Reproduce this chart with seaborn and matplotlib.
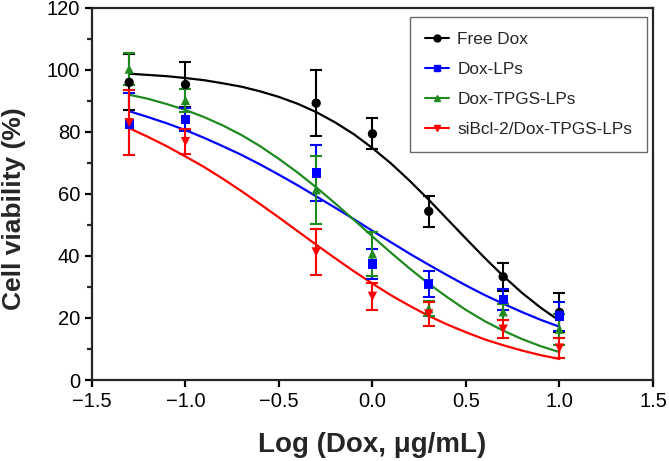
import numpy as np
import pandas as pd
import seaborn as sns
import matplotlib.pyplot as plt
from matplotlib.lines import Line2D
from matplotlib.ticker import MultipleLocator

# groups and styling
groups = ["Free Dox", "Dox-LPs", "Dox-TPGS-LPs", "siBcl-2/Dox-TPGS-LPs"]
colors = ["#000000", "#0000ff", "#1f8a1f", "#ff0000"]
markers = ["o", "s", "^", "v"]

log_dose = [-1.301, -1.0, -0.301, 0.0, 0.301, 0.699, 1.0]
free_mean = [96.0, 95.3, 89.3, 79.4, 54.4, 33.3, 21.8]
free_sd = [9.0, 7.4, 10.7, 5.0, 5.0, 4.5, 6.3]
lps_mean = [82.6, 84.0, 66.8, 37.4, 31.0, 26.0, 20.6]
lps_sd = [10.0, 3.6, 9.0, 4.7, 4.2, 3.5, 4.7]
tpgs_mean = [100.3, 90.2, 61.4, 40.7, 23.0, 22.0, 16.4]
tpgs_sd = [5.2, 3.6, 11.0, 7.0, 2.5, 2.5, 5.0]
si_mean = [83.0, 76.9, 41.3, 27.0, 21.3, 16.4, 10.3]
si_sd = [10.4, 4.0, 7.3, 4.4, 4.0, 2.8, 3.2]

# fitted curves
curve_x = [-1.3, -1.2, -1.1, -1.0, -0.9, -0.8, -0.7, -0.6, -0.5, -0.4, -0.3, -0.2,
           -0.1, 0.0, 0.1, 0.2, 0.3, 0.4, 0.5, 0.6, 0.7, 0.8, 0.9, 1.0]
free_fit = [98.8, 98.4, 98.0, 97.4, 96.7, 95.7, 94.6, 93.1, 91.3, 89.1, 86.4, 83.1,
            79.3, 74.8, 69.8, 64.2, 58.2, 51.9, 45.6, 39.4, 33.5, 28.1, 23.3, 19.1]
lps_fit = [86.7, 84.8, 82.8, 80.6, 78.1, 75.4, 72.6, 69.5, 66.2, 62.8, 59.2, 55.6,
           51.9, 48.1, 44.4, 40.7, 37.2, 33.8, 30.5, 27.4, 24.6, 21.9, 19.4, 17.2]
tpgs_fit = [92.0, 90.7, 89.0, 87.1, 84.8, 82.1, 79.0, 75.4, 71.3, 66.9, 62.1, 57.0,
            51.7, 46.3, 41.0, 35.9, 31.1, 26.7, 22.6, 19.0, 15.9, 13.2, 10.9, 9.0]
si_fit = [81.2, 78.4, 75.4, 72.1, 68.7, 64.9, 60.9, 56.7, 52.4, 48.0, 43.6, 39.3,
          35.1, 31.1, 27.3, 23.9, 20.7, 17.9, 15.4, 13.1, 11.2, 9.5, 8.0, 6.8]

means = [free_mean, lps_mean, tpgs_mean, si_mean]
sds = [free_sd, lps_sd, tpgs_sd, si_sd]
fits = [free_fit, lps_fit, tpgs_fit, si_fit]

curves = pd.concat([pd.DataFrame({"x": curve_x, "y": f, "group": g})
                    for g, f in zip(groups, fits)], ignore_index=True)
points = pd.concat([pd.DataFrame({"x": log_dose, "y": m, "sd": s, "group": g})
                    for g, m, s in zip(groups, means, sds)], ignore_index=True)

sns.set_style("ticks")
plt.rcParams["font.family"] = ["Liberation Sans", "DejaVu Sans"]

fig = plt.figure(figsize=(6.69, 4.61), dpi=100)
ax = fig.add_axes([0.1375, 0.1757, 0.8385, 0.807])

pal = dict(zip(groups, colors))
sns.lineplot(data=curves, x="x", y="y", hue="group", palette=pal,
             linewidth=1.6, legend=False, ax=ax)

for g, c in zip(groups, colors):
    d = points[points.group == g]
    ax.errorbar(d.x, d.y, yerr=d.sd, fmt="none", ecolor=c,
                elinewidth=1.5, capsize=4.5, capthick=1.5, zorder=3)

sns.scatterplot(data=points, x="x", y="y", hue="group", style="group",
                palette=pal, markers=dict(zip(groups, markers)), s=45,
                edgecolor="none", legend=False, ax=ax, zorder=4)

ax.set_xlim(-1.5, 1.5)
ax.set_ylim(0, 120)
ax.xaxis.set_major_locator(MultipleLocator(0.5))
ax.yaxis.set_major_locator(MultipleLocator(20))
ax.yaxis.set_minor_locator(MultipleLocator(10))
ax.xaxis.set_major_formatter(plt.FuncFormatter(lambda v, p: f"{v:.1f}".replace("-", "\u2212")))

for s in ax.spines.values():
    s.set_linewidth(1.6)
ax.tick_params(axis="both", which="major", direction="out", length=5,
               width=1.6, labelsize=14.5, colors="black")
ax.tick_params(axis="y", which="minor", direction="out", length=3.5, width=1.6)

ax.set_xlabel("Log (Dox, μg/mL)", fontsize=20, fontweight="bold", labelpad=15)
ax.set_ylabel("Cell viability (%)", fontsize=19, fontweight="bold")
ax.yaxis.set_label_coords(-0.118, 0.46)

handles = [Line2D([0], [0], color=c, marker=m, markersize=5, linewidth=1.5)
           for c, m in zip(colors, markers)]
leg = ax.legend(handles, groups, loc="upper right", bbox_to_anchor=(0.9893, 0.9758),
                fontsize=12.4, frameon=True, fancybox=False, edgecolor="#444444",
                handlelength=1.4, handletextpad=0.5, labelspacing=0.88,
                borderpad=0.85, borderaxespad=0)
leg.get_frame().set_linewidth(1.0)

fig.savefig("out.png", dpi=100)
